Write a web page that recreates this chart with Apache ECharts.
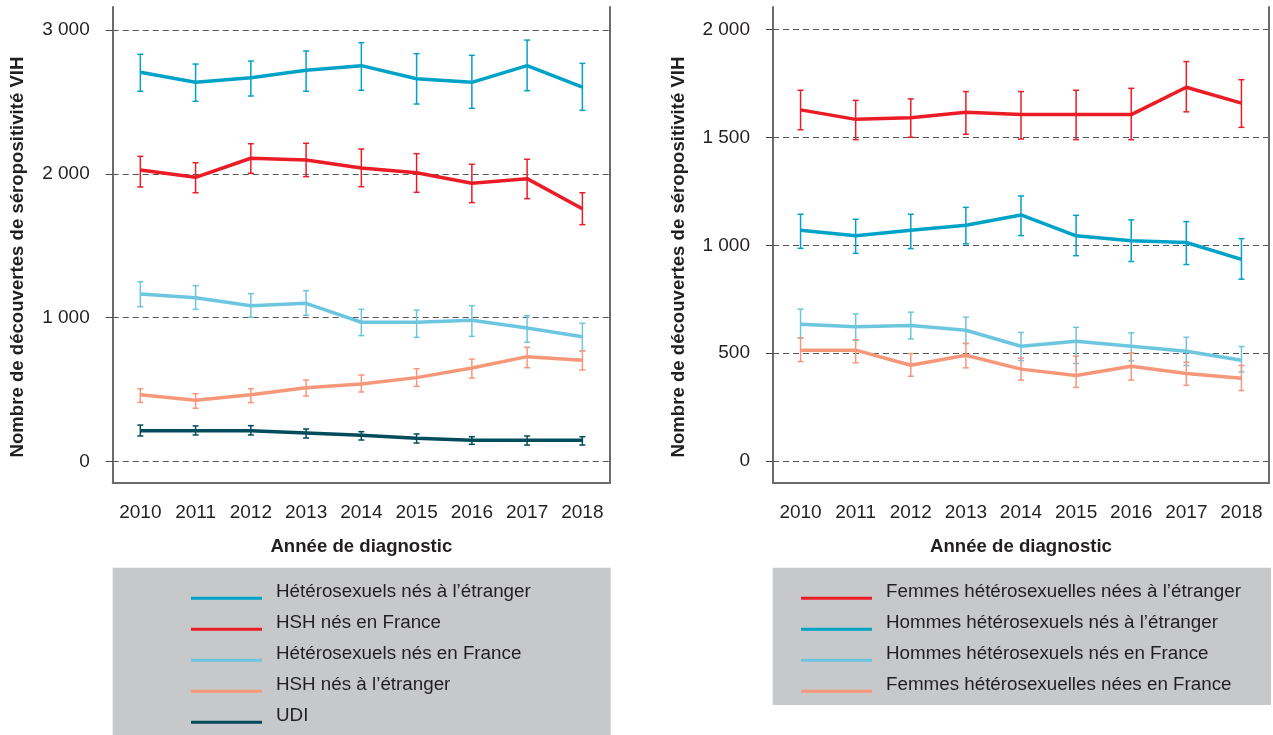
<!DOCTYPE html>
<html>
<head>
<meta charset="utf-8">
<script src="https://cdn.jsdelivr.net/npm/echarts@6/dist/echarts.min.js"></script>
<style>
html,body{margin:0;padding:0;background:#fff;}
#chart{width:1273px;height:735px;}
</style>
</head>
<body>
<div id="chart"></div>
<script>
// ---------- DATA ----------
const years = ['2010','2011','2012','2013','2014','2015','2016','2017','2018'];

// Left panel
const leftNames = ['Hétérosexuels nés à l’étranger','HSH nés en France','Hétérosexuels nés en France','HSH nés à l’étranger','UDI'];
const heteroEtranger      = [2706, 2636, 2668, 2720, 2752, 2661, 2636, 2752, 2603];
const heteroEtrangerLow   = [2574, 2504, 2541, 2574, 2581, 2485, 2455, 2578, 2441];
const heteroEtrangerHigh  = [2831, 2763, 2784, 2854, 2912, 2835, 2824, 2930, 2768];
const hshFrance           = [2026, 1975, 2108, 2096, 2040, 2007, 1934, 1966, 1757];
const hshFranceLow        = [1908, 1868, 2003, 1980, 1910, 1871, 1799, 1827, 1646];
const hshFranceHigh       = [2121, 2077, 2209, 2212, 2172, 2140, 2066, 2101, 1868];
const heteroFrance        = [1164, 1138, 1082, 1099, 967, 967, 981, 927, 867];
const heteroFranceLow     = [1075, 1057, 1002, 1016, 874, 862, 869, 828, 769];
const heteroFranceHigh    = [1249, 1222, 1166, 1187, 1057, 1052, 1082, 1013, 960];
const hshEtranger         = [463, 424, 463, 512, 538, 582, 649, 728, 702];
const hshEtrangerLow      = [410, 369, 408, 454, 482, 522, 579, 651, 635];
const hshEtrangerHigh     = [505, 470, 505, 565, 600, 644, 711, 793, 769];
const udi                 = [213, 213, 213, 197, 181, 160, 146, 146, 146];
const udiLow              = [176, 183, 183, 162, 148, 127, 118, 113, 113];
const udiHigh             = [252, 246, 248, 225, 206, 190, 171, 176, 171];

// Right panel
const rightNames = ['Femmes hétérosexuelles nées à l’étranger','Hommes hétérosexuels nés à l’étranger','Hommes hétérosexuels nés en France','Femmes hétérosexuelles nées en France'];
const femmesEtranger      = [1628, 1584, 1592, 1617, 1606, 1606, 1606, 1733, 1659];
const femmesEtrangerLow   = [1536, 1490, 1501, 1515, 1493, 1490, 1490, 1619, 1547];
const femmesEtrangerHigh  = [1719, 1672, 1679, 1713, 1713, 1719, 1728, 1852, 1768];
const hommesEtranger      = [1070, 1044, 1070, 1093, 1141, 1044, 1021, 1013, 935];
const hommesEtrangerLow   = [986, 963, 985, 1007, 1045, 952, 925, 911, 843];
const hommesEtrangerHigh  = [1144, 1121, 1144, 1176, 1229, 1139, 1118, 1110, 1031];
const hommesFrance        = [634, 622, 628, 606, 532, 555, 532, 509, 467];
const hommesFranceLow     = [571, 560, 566, 545, 466, 452, 464, 443, 413];
const hommesFranceHigh    = [704, 682, 690, 667, 596, 620, 594, 574, 531];
const femmesFrance        = [514, 514, 444, 490, 426, 396, 439, 406, 384];
const femmesFranceLow     = [461, 455, 393, 432, 375, 341, 375, 351, 327];
const femmesFranceHigh    = [571, 563, 498, 545, 477, 486, 501, 458, 443];

const yTicksLeft  = [0, 1000, 2000, 3000];
const yTicksRight = [0, 500, 1000, 1500, 2000];

const axisTitleY = 'Nombre de découvertes de séropositivité VIH';
const axisTitleX = 'Année de diagnostic';

// ---------- STYLE ----------
const FONT = "'Liberation Sans', Arial, sans-serif";
const TXT = '#231f20';
const C_CYAN = '#00a2c7';
const C_RED = '#ec1c26';
const C_LIGHT = '#6dc6e0';
const C_SALMON = '#f7977a';
const C_TEAL = '#004c5c';

function fmt(v){ return String(v).replace(/\B(?=(\d{3})+(?!\d))/g, ' '); }

function lineSeries(name, color, values, idx){
  return {
    name: name, type: 'line', xAxisIndex: idx, yAxisIndex: idx,
    data: values, symbol: 'none', z: 4,
    lineStyle: {color: color, width: 3.5},
    itemStyle: {color: color}
  };
}
function errSeries(name, color, low, high, idx){
  return {
    name: name + ' (IC)', type: 'custom', xAxisIndex: idx, yAxisIndex: idx, z: 3,
    data: low.map((l, i) => [i, l, high[i]]),
    renderItem: function(params, api){
      const lo = api.coord([api.value(0), api.value(1)]);
      const hi = api.coord([api.value(0), api.value(2)]);
      const w = 3;
      const st = {stroke: color, lineWidth: 1.5};
      return {type: 'group', children: [
        {type: 'line', shape: {x1: lo[0], y1: lo[1], x2: hi[0], y2: hi[1]}, style: st},
        {type: 'line', shape: {x1: lo[0]-w, y1: lo[1], x2: lo[0]+w, y2: lo[1]}, style: st},
        {type: 'line', shape: {x1: hi[0]-w, y1: hi[1], x2: hi[0]+w, y2: hi[1]}, style: st}
      ]};
    }
  };
}

const leftDefs = [
  [leftNames[0], C_CYAN, heteroEtranger, heteroEtrangerLow, heteroEtrangerHigh],
  [leftNames[1], C_RED, hshFrance, hshFranceLow, hshFranceHigh],
  [leftNames[2], C_LIGHT, heteroFrance, heteroFranceLow, heteroFranceHigh],
  [leftNames[3], C_SALMON, hshEtranger, hshEtrangerLow, hshEtrangerHigh],
  [leftNames[4], C_TEAL, udi, udiLow, udiHigh]
];
const rightDefs = [
  [rightNames[0], C_RED, femmesEtranger, femmesEtrangerLow, femmesEtrangerHigh],
  [rightNames[1], C_CYAN, hommesEtranger, hommesEtrangerLow, hommesEtrangerHigh],
  [rightNames[2], C_LIGHT, hommesFrance, hommesFranceLow, hommesFranceHigh],
  [rightNames[3], C_SALMON, femmesFrance, femmesFranceLow, femmesFranceHigh]
];

const series = [];
leftDefs.forEach(d => { series.push(errSeries(d[0], d[1], d[3], d[4], 0)); });
rightDefs.forEach(d => { series.push(errSeries(d[0], d[1], d[3], d[4], 1)); });
leftDefs.slice().reverse().forEach(d => { series.push(lineSeries(d[0], d[1], d[2], 0)); });
rightDefs.slice().reverse().forEach(d => { series.push(lineSeries(d[0], d[1], d[2], 1)); });

const grids = [
  {left: 112.7, top: 7, width: 497.3, height: 476},
  {left: 773, top: 7, width: 496, height: 476}
];
const yRanges = [[-151, 3160], [-102, 2105]];
const yTickSets = [yTicksLeft, yTicksRight];

function xAxisDef(i){
  return {
    type: 'category', gridIndex: i, data: years, boundaryGap: true,
    axisLine: {onZero: false, lineStyle: {color: '#6b6b6b', width: 2}},
    axisTick: {alignWithLabel: true, length: 7, lineStyle: {color: '#555', width: 1.5}},
    axisLabel: {interval: 0, fontSize: 19, color: TXT, margin: 20, fontFamily: FONT},
    splitLine: {show: false},
    name: axisTitleX, nameLocation: 'middle', nameGap: 54,
    nameTextStyle: {fontWeight: 'bold', fontSize: 18.6, color: TXT, fontFamily: FONT}
  };
}
function yAxisDef(i){
  return {
    type: 'value', gridIndex: i, min: yRanges[i][0], max: yRanges[i][1],
    axisLine: {show: true, onZero: false, lineStyle: {color: '#6b6b6b', width: 2}},
    axisTick: {show: true, length: 7, customValues: yTickSets[i], lineStyle: {color: '#444', width: 1}},
    axisLabel: {customValues: yTickSets[i], formatter: fmt, fontSize: 19, color: TXT, margin: 23, fontFamily: FONT},
    splitLine: {show: true, lineStyle: {type: [6, 4], color: '#555', width: 1}},
    name: axisTitleY, nameLocation: 'middle', nameGap: 85,
    nameTextStyle: {fontWeight: 'bold', fontSize: 18.6, color: TXT, fontFamily: FONT, padding: [0, 24, 0, 0]}
  };
}
function borderAxis(i){
  return {
    type: 'value', gridIndex: i, position: 'right', min: yRanges[i][0], max: yRanges[i][1],
    axisLine: {show: true, lineStyle: {color: '#6b6b6b', width: 2}},
    axisTick: {show: false}, axisLabel: {show: false}, splitLine: {show: false}
  };
}

// legend: one component draws the line keys, a second one draws the labels slightly above them
function legendIcons(names, left){
  return {
    data: names, orient: 'vertical', left: left, top: 596.8, height: 200, padding: 0,
    itemGap: 28, itemWidth: 71, itemHeight: 3, icon: 'rect', selectedMode: false,
    formatter: function(){ return ''; },
    textStyle: {fontSize: 2, lineHeight: 3}
  };
}
function legendTexts(names, left){
  return {
    data: names, orient: 'vertical', left: left + 9, top: 581.7, height: 200, padding: 0,
    itemGap: 11, itemWidth: 71, itemHeight: 3, icon: 'rect', selectedMode: false,
    itemStyle: {opacity: 0}, lineStyle: {opacity: 0},
    textStyle: {fontSize: 18.8, lineHeight: 20, color: TXT, fontFamily: FONT}
  };
}

const option = {
  animation: false,
  backgroundColor: '#fff',
  graphic: [
    {type: 'rect', left: 112.7, top: 567.7, shape: {width: 498, height: 168}, style: {fill: '#c7c8ca'}, z: -10, silent: true},
    {type: 'rect', left: 772.7, top: 567.7, shape: {width: 498.3, height: 137.3}, style: {fill: '#c7c8ca'}, z: -10, silent: true}
  ],
  grid: grids,
  xAxis: [xAxisDef(0), xAxisDef(1)],
  yAxis: [yAxisDef(0), yAxisDef(1), borderAxis(0), borderAxis(1)],
  legend: [
    legendIcons(leftNames, 191), legendTexts(leftNames, 191),
    legendIcons(rightNames, 801), legendTexts(rightNames, 801)
  ],
  series: series
};

const chart = echarts.init(document.getElementById('chart'), null, {renderer: 'canvas'});
chart.setOption(option);
</script>
</body>
</html>
